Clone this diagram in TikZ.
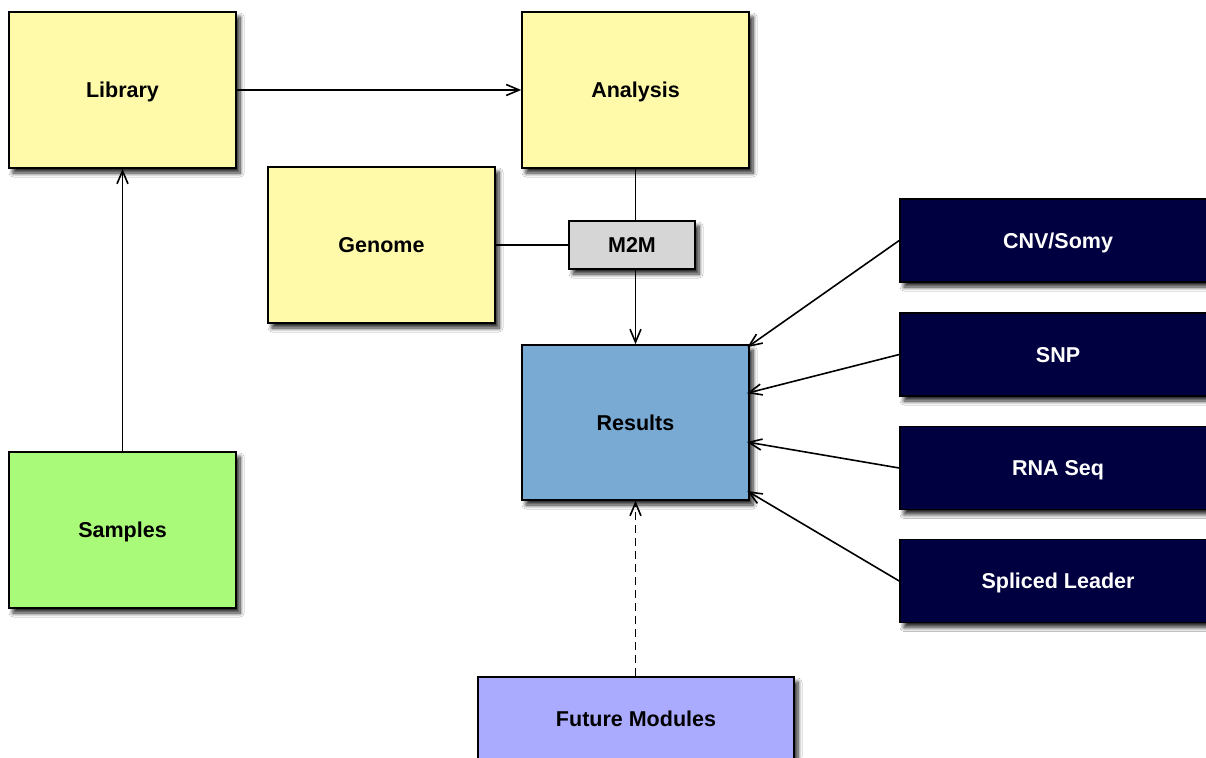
\documentclass[tikz,border=0pt]{standalone}
\usepackage{fontspec}
\setmainfont{Liberation Sans}
\usetikzlibrary{arrows.meta,shadows.blur}
\definecolor{ylw}{HTML}{FFFAAA}
\definecolor{blu}{HTML}{78AAD4}
\definecolor{grn}{HTML}{AAFA7A}
\definecolor{lav}{HTML}{AAAAFF}
\definecolor{nvy}{HTML}{000040}
\definecolor{gry}{HTML}{D6D6D6}
\tikzset{
  box/.style={draw=black, line width=1.6pt, inner sep=0pt, text depth=0pt, font=\fontsize{21.5}{24}\selectfont\bfseries,
    blur shadow={shadow xshift=4pt, shadow yshift=-5pt, shadow blur radius=4pt, shadow blur steps=8, shadow opacity=85}},
  bigbox/.style={box, minimum width=227pt, minimum height=156pt},
  modbox/.style={box, fill=nvy, text=white, minimum width=316pt, minimum height=83pt},
  conn/.style={line width=1.6pt, draw=black},
  arr/.style={conn, -{Straight Barb[length=13pt,width=11pt]}},
}
\begin{document}
\begin{tikzpicture}[x=1pt,y=-1pt]
\clip (0,0) rectangle (1206,757);
\fill[white] (0,0) rectangle (1206,757);
\node[bigbox, fill=ylw] (lib) at (122.5,90) {Library};
\node[bigbox, fill=ylw] (ana) at (635.5,90) {Analysis};
\node[bigbox, fill=ylw] (gen) at (381.5,245) {Genome};
\node[box, fill=gry, minimum width=126pt, minimum height=48pt] (m2m) at (632,245) {M2M};
\node[bigbox, fill=blu, minimum height=155pt] (res) at (635.5,422.5) {Results};
\node[bigbox, fill=grn] (sam) at (122.5,530) {Samples};
\node[modbox] (cnv) at (1058,240.5) {CNV/Somy};
\node[modbox] (snp) at (1058,354.5) {SNP};
\node[modbox] (rna) at (1058,468) {RNA Seq};
\node[modbox] (spl) at (1058,581) {Spliced Leader};
\node[box, fill=lav, minimum width=316pt, minimum height=83pt] (fut) at (636,718.5) {Future Modules};

\draw[arr] (lib.east) -- (ana.west);
\draw[arr] (sam.north) -- (lib.south);
\draw[conn] (ana.south) -- (ana.south |- m2m.north);
\draw[conn] (gen.east) -- (m2m.west);
\draw[arr] (ana.south |- m2m.south) -- (res.north);
\draw[arr, dash pattern=on 8pt off 5pt] (fut.north -| res.south) -- (res.south);
\draw[arr, shorten >=-3pt] (cnv.west) -- ([yshift=77pt]res.east);
\draw[arr, shorten >=-3pt] (snp.west) -- ([yshift=30pt]res.east);
\draw[arr, shorten >=-3pt] (rna.west) -- ([yshift=-20pt]res.east);
\draw[arr, shorten >=-3pt] (spl.west) -- ([yshift=-70pt]res.east);
\end{tikzpicture}
\end{document}
